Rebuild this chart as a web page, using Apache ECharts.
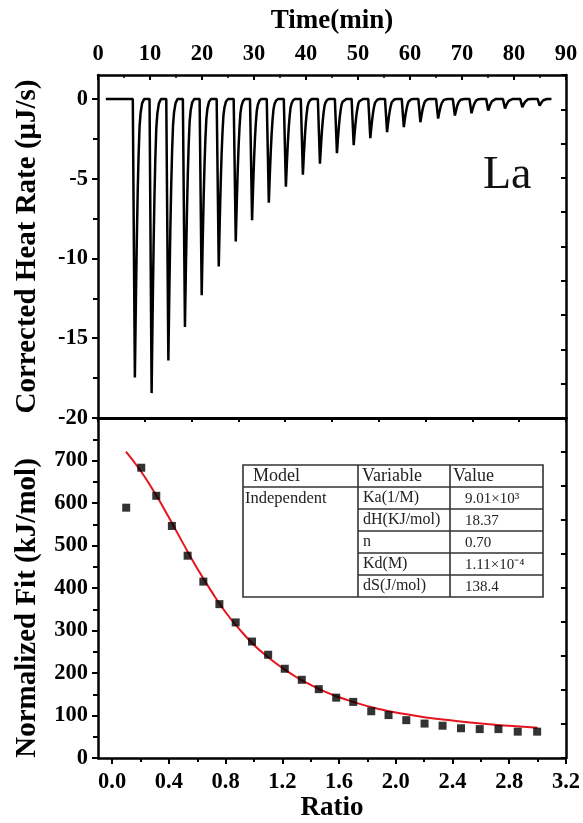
<!DOCTYPE html>
<html><head><meta charset="utf-8">
<script src="https://cdn.jsdelivr.net/npm/echarts@6/dist/echarts.min.js"></script>
<style>html,body{margin:0;padding:0;background:#fff}#c{width:583px;height:823px}</style>
</head><body><div id="c"></div>
<script>
// ---- Top panel: thermogram peaks (time of peak minimum, depth in µJ/s)
const peakTimes = [7.09, 10.31, 13.53, 16.72, 19.94, 23.22, 26.49, 29.63, 32.85, 36.13, 39.40, 42.68, 45.95,
  49.17, 52.37, 55.59, 58.81, 62.00, 65.41, 68.63, 71.83, 75.05, 78.27, 81.60, 84.93];
const peakDepths = [-17.46, -18.44, -16.4, -14.3, -12.3, -10.5, -8.94, -7.6, -6.5, -5.5, -4.75, -4.06, -3.4,
  -2.9, -2.46, -2.08, -1.77, -1.46, -1.23, -1.04, -0.9, -0.73, -0.6, -0.52, -0.42];
// peak profile: time offset (min) from the minimum and fraction of depth
const peakShapeOffsets = [-0.4, 0, 0.2, 0.38, 0.55, 0.72, 0.9, 1.1, 1.4, 1.8];
const peakShapeFractions = [0, 1, 0.72, 0.5, 0.33, 0.2, 0.1, 0.05, 0.015, 0];
const baselineStart = 1.5, baselineEnd = 87.2;

// ---- Bottom panel: integrated heats and fit
const ratio = [0.099, 0.205, 0.311, 0.421, 0.532, 0.643, 0.756, 0.871, 0.986, 1.10, 1.217, 1.337, 1.457,
  1.58, 1.70, 1.827, 1.949, 2.074, 2.203, 2.33, 2.46, 2.592, 2.724, 2.86, 2.997];
const normalizedFit = [589, 683, 617, 546, 476, 415, 362, 319, 274, 243, 210, 184, 162,
  142, 132, 110, 101, 89, 81, 76, 70, 68, 68, 62, 62];
const fitRatio = [0.097, 0.2, 0.3, 0.4, 0.5, 0.6, 0.7, 0.8, 0.9, 1.0, 1.1, 1.2, 1.3, 1.4, 1.5, 1.6, 1.7, 1.8, 1.9, 2.0,
  2.2, 2.4, 2.6, 2.8, 3.0];
const fitValue = [721, 676, 624, 566, 505, 446, 392, 343, 302, 266, 237, 212, 190, 172, 156, 143, 132, 122, 114, 107,
  96, 88, 81, 76, 71];

// ---- Tick values
const heatTicks = [-20, -15, -10, -5, 0];
const heatMinorTicks = [-17.5, -12.5, -7.5, -2.5];
const ratioTicks = [0, 0.4, 0.8, 1.2, 1.6, 2.0, 2.4, 2.8, 3.2];
const ratioMinorTicks = [0.2, 0.6, 1.0, 1.4, 1.8, 2.2, 2.6, 3.0];

// ---- Table
const tableHeader = ['Model', 'Variable', 'Value'];
const tableModel = 'Independent';
const tableVariables = ['Ka(1/M)', 'dH(KJ/mol)', 'n', 'Kd(M)', 'dS(J/mol)'];
const tableValues = ['9.01×10³', '18.37', '0.70', '1.11×10⁻⁴', '138.4'];
const panelLabel = 'La';

const F = '"Liberation Serif","Times New Roman",serif';
const thermo = [[baselineStart, 0]];
peakTimes.forEach((t, i) => {
  peakShapeOffsets.forEach((o, j) => thermo.push([t + o, peakDepths[i] * peakShapeFractions[j]]));
});
thermo.push([baselineEnd, 0]);

const blk = '#000';
const line = (w) => ({show: true, onZero: false, lineStyle: {color: blk, width: w}});
const lab = {fontFamily: F, fontWeight: 'bold', fontSize: 22.5, color: blk};
const nameStyle = (s) => ({fontFamily: F, fontWeight: 'bold', fontSize: s, color: blk});
const none = {show: false};

const chart = echarts.init(document.getElementById('c'));
const rowY = (i) => 498 + i * 22;
const graphic = [
  {type: 'text', left: 483, top: 176 - 23, style: {text: panelLabel, font: '46px ' + F, fill: '#111'}},
  {type: 'rect', shape: {x: 243, y: 465, width: 300, height: 132}, style: {fill: '#fff', stroke: '#333', lineWidth: 1.6}},
  {type: 'line', shape: {x1: 358, y1: 465, x2: 358, y2: 597}, style: {stroke: '#333', lineWidth: 1.6}},
  {type: 'line', shape: {x1: 450, y1: 465, x2: 450, y2: 597}, style: {stroke: '#333', lineWidth: 1.6}},
  {type: 'line', shape: {x1: 243, y1: 487, x2: 543, y2: 487}, style: {stroke: '#333', lineWidth: 1.6}},
];
[509, 531, 553, 575].forEach(y => graphic.push({type: 'line', shape: {x1: 358, y1: y, x2: 543, y2: y}, style: {stroke: '#333', lineWidth: 1.6}}));
[253, 362, 453].forEach((x, i) => graphic.push({type: 'text', x: x, y: 476,
  style: {text: tableHeader[i], font: '18px ' + F, fill: '#222', textVerticalAlign: 'middle'}}));
graphic.push({type: 'text', x: 245, y: 499, style: {text: tableModel, font: '16.5px ' + F, fill: '#222', textVerticalAlign: 'middle'}});
tableVariables.forEach((v, i) => graphic.push({type: 'text', x: 363, y: rowY(i),
  style: {text: v, font: '16px ' + F, fill: '#222', textVerticalAlign: 'middle'}}));
tableValues.forEach((v, i) => graphic.push({type: 'text', x: 465, y: rowY(i) + 1,
  style: {text: v, font: '15px ' + F, fill: '#222', textVerticalAlign: 'middle'}}));

chart.setOption({
  animation: false,
  backgroundColor: '#fff',
  grid: [
    {left: 98, right: 17, top: 75, height: 343},
    {left: 98, right: 17, top: 418, height: 342}
  ],
  xAxis: [
    {gridIndex: 0, type: 'value', position: 'top', min: 0, max: 90, interval: 10,
      name: 'Time(min)', nameLocation: 'middle', nameGap: 40, nameTextStyle: nameStyle(27),
      axisLine: line(2.5), axisTick: {inside: true, length: 5, lineStyle: {color: blk, width: 2}},
      minorTick: {show: true, splitNumber: 2, length: 3, lineStyle: {color: blk, width: 1.5}},
      axisLabel: Object.assign({margin: 9}, lab), splitLine: none, minorSplitLine: none},
    {gridIndex: 0, type: 'value', position: 'bottom', min: 0, max: 90,
      axisLine: line(3), axisTick: none, axisLabel: none, splitLine: none},
    {gridIndex: 1, type: 'value', position: 'bottom', min: -0.1, max: 3.2,
      name: 'Ratio', nameLocation: 'middle', nameGap: 37, nameTextStyle: nameStyle(27),
      axisLine: line(2.5), axisTick: {inside: false, length: 6, customValues: ratioTicks, lineStyle: {color: blk, width: 2}},
      axisLabel: Object.assign({margin: 13, customValues: ratioTicks, formatter: v => v.toFixed(1)}, lab), splitLine: none},
    {gridIndex: 1, type: 'value', position: 'bottom', min: -0.1, max: 3.2,
      axisLine: none, axisTick: {inside: false, length: 4, customValues: ratioMinorTicks, lineStyle: {color: blk, width: 2}},
      axisLabel: none, splitLine: none},
    {gridIndex: 1, type: 'value', position: 'top', min: 0, max: 10, interval: 1,
      axisLine: line(3), axisTick: {inside: true, length: 4, lineStyle: {color: blk, width: 2}}, axisLabel: none, splitLine: none}
  ],
  yAxis: [
    {gridIndex: 0, type: 'value', position: 'left', min: -20, max: 1.5,
      name: 'Corrected Heat Rate (μJ/s)', nameLocation: 'middle', nameGap: 56, nameTextStyle: nameStyle(29),
      axisLine: line(2.5), axisTick: {inside: false, length: 6, customValues: heatTicks, lineStyle: {color: blk, width: 2}},
      axisLabel: Object.assign({margin: 10, customValues: heatTicks}, lab), splitLine: none},
    {gridIndex: 0, type: 'value', position: 'left', min: -20, max: 1.5,
      axisLine: none, axisTick: {inside: false, length: 5, customValues: heatMinorTicks, lineStyle: {color: blk, width: 2}},
      axisLabel: none, splitLine: none},
    {gridIndex: 0, type: 'value', position: 'right', min: 0, max: 10, interval: 1,
      axisLine: line(2.5), axisTick: {inside: true, length: 5, lineStyle: {color: blk, width: 2}}, axisLabel: none, splitLine: none},
    {gridIndex: 1, type: 'value', position: 'left', min: 0, max: 800, interval: 100,
      name: 'Normalized Fit (kJ/mol)', nameLocation: 'middle', nameGap: 56,
      nameTextStyle: Object.assign({padding: [0, 40, 0, 0]}, nameStyle(29)),
      axisLine: line(2.5), axisTick: {inside: false, length: 6, lineStyle: {color: blk, width: 2}},
      minorTick: {show: true, splitNumber: 2, length: 5, lineStyle: {color: blk, width: 2}},
      axisLabel: Object.assign({margin: 10, showMaxLabel: false}, lab), splitLine: none, minorSplitLine: none},
    {gridIndex: 1, type: 'value', position: 'right', min: 0, max: 10, interval: 1,
      axisLine: line(2.5), axisTick: {inside: true, length: 5, lineStyle: {color: blk, width: 2}}, axisLabel: none, splitLine: none}
  ],
  series: [
    {type: 'line', xAxisIndex: 0, yAxisIndex: 0, data: thermo, showSymbol: false, silent: true,
      lineStyle: {color: '#000', width: 2.5}, z: 3},
    {type: 'line', xAxisIndex: 2, yAxisIndex: 3, data: fitRatio.map((r, i) => [r, fitValue[i]]), smooth: true,
      showSymbol: false, silent: true, lineStyle: {color: '#e3141c', width: 2}, z: 3},
    {type: 'scatter', xAxisIndex: 2, yAxisIndex: 3, data: ratio.map((r, i) => [r, normalizedFit[i]]),
      symbol: 'rect', symbolSize: 8, itemStyle: {color: '#000'}, z: 4}
  ],
  graphic: graphic
});
</script></body></html>
